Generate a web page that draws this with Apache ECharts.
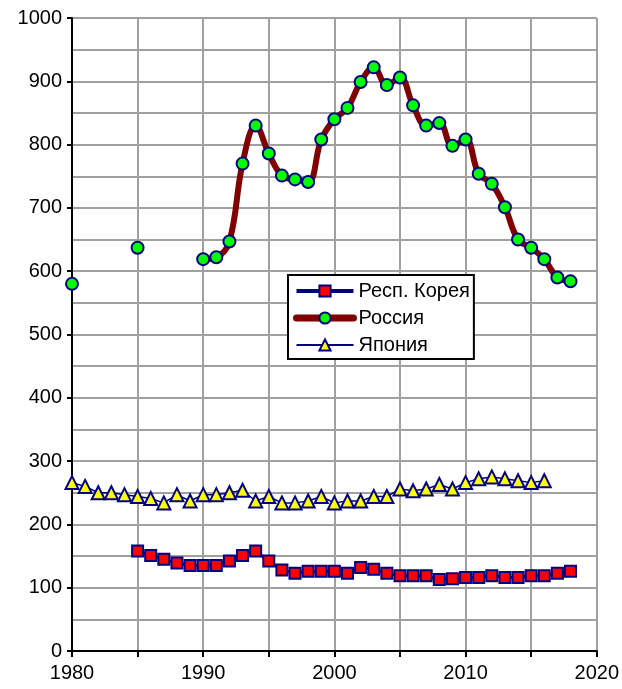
<!DOCTYPE html>
<html>
<head>
<meta charset="utf-8">
<script src="https://cdn.jsdelivr.net/npm/echarts@6/dist/echarts.min.js"></script>
<style>
  html, body { margin: 0; padding: 0; background: #fff; }
  #chart { width: 622px; height: 689px; }
</style>
</head>
<body>
<div id="chart"></div>
<script>
  // годы и значения по странам (null = нет данных)
  const koreaYears = [1985, 1986, 1987, 1988, 1989, 1990, 1991, 1992, 1993, 1994, 1995, 1996, 1997, 1998, 1999,
    2000, 2001, 2002, 2003, 2004, 2005, 2006, 2007, 2008, 2009, 2010, 2011, 2012, 2013, 2014, 2015, 2016, 2017, 2018]
  const korea = [158, 151, 145, 139, 135, 135, 135, 142, 151, 158, 142, 128, 123, 126, 126,
    126, 123, 132, 129, 123, 119, 119, 119, 113, 114, 116, 116, 119, 116, 116, 119, 119, 123, 126]

  const russiaYears = [1980, 1981, 1982, 1983, 1984, 1985, 1986, 1987, 1988, 1989, 1990, 1991, 1992, 1993, 1994,
    1995, 1996, 1997, 1998, 1999, 2000, 2001, 2002, 2003, 2004, 2005, 2006, 2007, 2008, 2009, 2010, 2011, 2012,
    2013, 2014, 2015, 2016, 2017, 2018]
  const russia = [580, null, null, null, null, 637, null, null, null, null, 619, 622, 647, 770, 830,
    786, 751, 745, 741, 808, 840, 858, 899, 922, 894, 906, 862, 830, 834, 798, 808, 754, 738,
    701, 650, 637, 619, 590, 584]

  const japanYears = [1980, 1981, 1982, 1983, 1984, 1985, 1986, 1987, 1988, 1989, 1990, 1991, 1992, 1993, 1994,
    1995, 1996, 1997, 1998, 1999, 2000, 2001, 2002, 2003, 2004, 2005, 2006, 2007, 2008, 2009, 2010, 2011, 2012,
    2013, 2014, 2015, 2016]
  const japan = [266, 260, 250, 250, 247, 244, 241, 234, 247, 237, 247, 247, 250, 254, 237,
    244, 234, 234, 237, 244, 234, 237, 237, 244, 244, 256, 253, 256, 263, 256, 266, 272, 275,
    272, 269, 266, 269]

  const names = ['Респ. Корея', 'Россия', 'Япония']

  const pairs = (xs, ys) => xs.map((x, i) => [x, ys[i] == null ? '-' : ys[i]])

  const chart = echarts.init(document.getElementById('chart'))
  const font = 'Liberation Sans, Arial, sans-serif'
  const gridLine = { show: true, lineStyle: { color: '#a0a0a0', width: 2 } }
  const plain = (v) => String(v)

  chart.setOption({
    animation: false,
    grid: { left: 72, right: 22, top: 18, bottom: 38, containLabel: false },
    legend: {
      orient: 'vertical',
      left: 288,
      top: 275,
      data: [
        { name: names[0], lineStyle: { width: 4 } },
        { name: names[1], lineStyle: { width: 7, cap: 'round' } },
        { name: names[2], lineStyle: { width: 2 } }
      ],
      itemWidth: 57,
      itemHeight: 14,
      itemGap: 7,
      padding: [6, 4, 4, 5],
      borderColor: '#000',
      borderWidth: 2,
      borderRadius: 0,
      backgroundColor: '#fff',
      textStyle: { fontFamily: font, fontSize: 20, color: '#000', lineHeight: 20 }
    },
    xAxis: {
      type: 'value',
      min: 1980,
      max: 2020,
      interval: 10,
      axisLine: { onZero: false, lineStyle: { color: '#000', width: 2 } },
      axisTick: { show: true, length: 6, lineStyle: { color: '#000', width: 2 } },
      minorTick: { show: true, splitNumber: 2, length: 6, lineStyle: { color: '#000', width: 2 } },
      splitLine: gridLine,
      minorSplitLine: gridLine,
      axisLabel: { fontFamily: font, fontSize: 20, color: '#000', margin: 12, formatter: plain }
    },
    yAxis: {
      type: 'value',
      min: 0,
      max: 1000,
      interval: 100,
      axisLine: { show: true, lineStyle: { color: '#000', width: 2 } },
      axisTick: { show: true, length: 5, lineStyle: { color: '#000', width: 2 } },
      minorTick: { show: false, splitNumber: 2 },
      splitLine: gridLine,
      minorSplitLine: gridLine,
      axisLabel: { fontFamily: font, fontSize: 20, color: '#000', margin: 10, formatter: plain }
    },
    series: [
      {
        name: names[0],
        type: 'line',
        data: pairs(koreaYears, korea),
        lineStyle: { color: '#000080', width: 3 },
        itemStyle: { color: '#ff0000', borderColor: '#000080', borderWidth: 2 },
        symbol: 'rect',
        symbolSize: 11,
        showAllSymbol: true,
        z: 4
      },
      {
        name: names[1],
        type: 'line',
        data: pairs(russiaYears, russia),
        smooth: 0.4,
        connectNulls: false,
        lineStyle: { color: '#800000', width: 6 },
        itemStyle: { color: '#00ff00', borderColor: '#000080', borderWidth: 2 },
        symbol: 'circle',
        symbolSize: 12,
        showAllSymbol: true,
        z: 3
      },
      {
        name: names[2],
        type: 'line',
        data: pairs(japanYears, japan),
        lineStyle: { color: '#000080', width: 1.5 },
        itemStyle: { color: '#ffff00', borderColor: '#000080', borderWidth: 2 },
        symbol: 'triangle',
        symbolSize: 13,
        showAllSymbol: true,
        z: 2
      }
    ]
  })
</script>
</body>
</html>
